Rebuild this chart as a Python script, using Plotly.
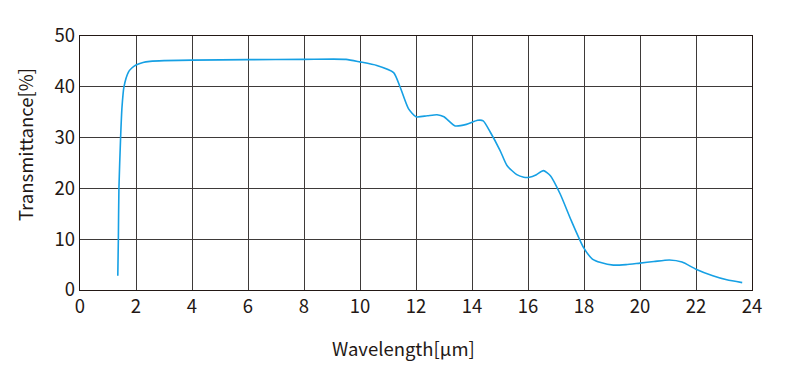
import plotly.graph_objects as go

wavelength = [1.35, 1.37, 1.39, 1.45, 1.50, 1.57, 1.73, 1.85, 2.0, 2.25, 2.5, 3.0, 4.0, 6.0, 8.0, 9.5,
              10.0, 10.6, 11.2, 11.43, 11.73, 12.0, 12.4, 12.75, 13.0, 13.4, 13.8, 14.2, 14.4,
              14.65, 15.0, 15.25, 15.6, 15.85, 16.05, 16.3, 16.55, 16.8, 17.15, 17.55, 17.98,
              18.3, 18.6, 19.05, 19.5, 20.0, 20.5, 21.05, 21.5, 22.0, 22.6, 23.1, 23.65]
transmittance = [2.8, 10, 20, 30, 36, 40, 42.9, 43.7, 44.3, 44.8, 45.0, 45.15, 45.25, 45.35, 45.4, 45.4,
                 44.9, 44.2, 42.8, 40.0, 35.7, 34.1, 34.3, 34.5, 34.1, 32.3, 32.6, 33.4, 33.3,
                 31.1, 27.5, 24.5, 22.7, 22.2, 22.2, 22.7, 23.5, 22.5, 18.9, 13.6, 8.4,
                 6.1, 5.4, 4.9, 5.0, 5.3, 5.6, 5.9, 5.5, 4.1, 2.8, 2.0, 1.45]

x_ticks = list(range(0, 25, 2))
y_ticks = [0, 10, 20, 30, 40, 50]
x_title = "Wavelength[μm]"
y_title = "Transmittance[%]"

font_family = "Noto Sans CJK JP, Noto Sans, sans-serif"
text_color = "#231815"
grid_color = "#3e3a39"

fig = go.Figure()
fig.add_trace(go.Scatter(
    x=wavelength, y=transmittance, mode="lines",
    line=dict(color="#16a0e4", width=1.6, shape="spline", smoothing=0.6),
    showlegend=False, hoverinfo="skip",
))

fig.update_layout(
    width=799, height=381,
    margin=dict(l=72, r=55, t=28, b=99),
    paper_bgcolor="white", plot_bgcolor="white",
    font=dict(family=font_family, size=18.5, color=text_color),
    xaxis=dict(
        range=[0, 24], tickvals=x_ticks, ticktext=[str(v) for v in x_ticks],
        showgrid=True, gridcolor=grid_color, gridwidth=1.4,
        showline=True, linecolor=text_color, linewidth=1.4, mirror=True,
        ticks="", zeroline=False,
    ),
    yaxis=dict(
        range=[0, 50], tickvals=y_ticks, ticktext=[str(v) for v in y_ticks],
        showgrid=True, gridcolor=grid_color, gridwidth=1.4,
        showline=True, linecolor=text_color, linewidth=1.4, mirror=True,
        ticks="", zeroline=False,
    ),
    annotations=[
        dict(text=x_title, xref="paper", yref="paper", x=0.4814, y=-0.228,
             xanchor="center", yanchor="middle", showarrow=False,
             font=dict(size=18.5, color=text_color)),
        dict(text=y_title, xref="paper", yref="paper", x=-0.0818, y=0.571,
             xanchor="center", yanchor="middle", showarrow=False, textangle=-90,
             font=dict(size=18.5, color=text_color)),
    ],
)

fig.write_html("out.html")
